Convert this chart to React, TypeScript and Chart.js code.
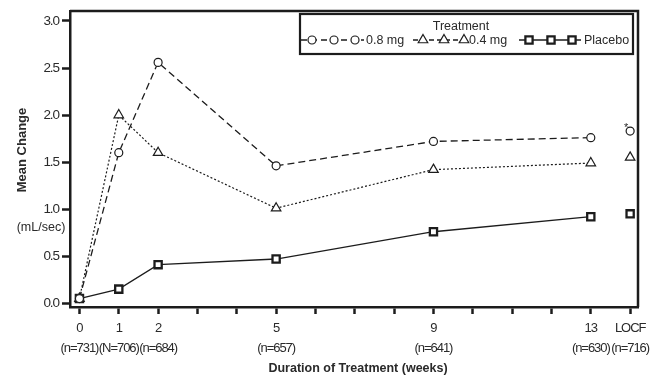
import React, { useEffect, useRef } from "react";
import { Chart, registerables } from "chart.js";

Chart.register(...registerables);

// ---- Data ----
const weeks = [0, 1, 2, 5, 9, 13];
const locfX = 14;
const mg08 = [0.05, 1.6, 2.56, 1.46, 1.72, 1.76];
const mg08Locf = 1.83;
const mg04 = [0.05, 2.0, 1.6, 1.01, 1.42, 1.49];
const mg04Locf = 1.55;
const placebo = [0.05, 0.15, 0.41, 0.47, 0.76, 0.92];
const placeboLocf = 0.95;

const xTickWeeks = [0, 1, 2, 3, 4, 5, 6, 7, 8, 9, 10, 11, 12, 13, 14];
const xLabelWeeks = [0, 1, 2, 5, 9, 13, 14];
const xLabelTop = ["0", "1", "2", "5", "9", "13", "LOCF"];
const xLabelBottom = ["(n=731)", "(N=706)", "(n=684)", "(n=657)", "(n=641)", "(n=630)", "(n=716)"];
const yTickValues = [0, 0.5, 1, 1.5, 2, 2.5, 3];

const legendTitle = "Treatment";
const legendLabels = ["0.8 mg", "0.4 mg", "Placebo"];
const yTitle = "Mean Change";
const yUnit = "(mL/sec)";
const xTitle = "Duration of Treatment (weeks)";

const SANS = "'Liberation Sans', Arial, sans-serif";
const INK = "#1c1c1c";
const TEXT = "#2a2a2a";
const TIGHT = "-1.05px";

function drawMarker(ctx: CanvasRenderingContext2D, kind: string, x: number, y: number) {
  ctx.save();
  ctx.setLineDash([]);
  ctx.fillStyle = "#fff";
  ctx.strokeStyle = INK;
  ctx.beginPath();
  if (kind === "circle") {
    ctx.lineWidth = 1.2;
    ctx.arc(x, y, 4, 0, Math.PI * 2);
  } else if (kind === "triangle") {
    ctx.lineWidth = 1.2;
    const r = 5.5;
    ctx.moveTo(x, y - r);
    ctx.lineTo(x + r * 0.866, y + r * 0.5);
    ctx.lineTo(x - r * 0.866, y + r * 0.5);
    ctx.closePath();
  } else {
    ctx.lineWidth = 2.3;
    ctx.rect(x - 3.6, y - 3.6, 7.2, 7.2);
  }
  ctx.fill();
  ctx.stroke();
  ctx.restore();
}

const tightPlugin = {
  id: "tight",
  beforeUpdate(chart: any) {
    (chart.ctx as any).letterSpacing = TIGHT;
  },
  beforeDraw(chart: any) {
    (chart.ctx as any).letterSpacing = TIGHT;
  },
};

const decorPlugin = {
  id: "decor",
  afterDraw(chart: any) {
    const ctx: CanvasRenderingContext2D = chart.ctx;
    const a = chart.chartArea;
    ctx.save();
    (ctx as any).letterSpacing = "0px";
    // frame top & right
    ctx.strokeStyle = INK;
    ctx.lineWidth = 2.5;
    ctx.setLineDash([]);
    ctx.beginPath();
    ctx.moveTo(a.left, a.top);
    ctx.lineTo(a.right, a.top);
    ctx.lineTo(a.right, a.bottom);
    ctx.stroke();

    // legend box
    ctx.lineWidth = 2.2;
    ctx.strokeRect(300, 14, 333, 40);
    ctx.fillStyle = TEXT;
    ctx.font = `12.5px ${SANS}`;
    ctx.textAlign = "center";
    ctx.textBaseline = "middle";
    ctx.fillText(legendTitle, 461, 27);

    const rowY = 40;
    // item 1
    ctx.lineWidth = 1.3;
    ctx.setLineDash([6, 4]);
    ctx.beginPath();
    ctx.moveTo(301, rowY);
    ctx.lineTo(364, rowY);
    ctx.stroke();
    [312, 334, 355].forEach((x) => drawMarker(ctx, "circle", x, rowY));
    // item 2
    ctx.setLineDash([5, 3]);
    ctx.beginPath();
    ctx.moveTo(413, rowY);
    ctx.lineTo(466, rowY);
    ctx.stroke();
    [423, 444, 464].forEach((x) => drawMarker(ctx, "triangle", x, rowY));
    // item 3
    ctx.setLineDash([]);
    ctx.beginPath();
    ctx.moveTo(519, rowY);
    ctx.lineTo(581, rowY);
    ctx.stroke();
    [529, 551, 572].forEach((x) => drawMarker(ctx, "square", x, rowY));

    ctx.fillStyle = TEXT;
    ctx.font = `12.5px ${SANS}`;
    ctx.textAlign = "left";
    ctx.fillText(legendLabels[0], 366, rowY + 1);
    ctx.fillText(legendLabels[1], 469, rowY + 1);
    ctx.fillText(legendLabels[2], 584, rowY + 1);

    // asterisk near LOCF 0.8 mg
    const xs = chart.scales.x;
    const ys = chart.scales.y;
    ctx.font = `11px ${SANS}`;
    ctx.textAlign = "center";
    ctx.fillText("*", xs.getPixelForValue(locfX) - 4, ys.getPixelForValue(mg08Locf) - 3);

    // axis titles
    ctx.fillStyle = TEXT;
    ctx.font = `bold 13px ${SANS}`;
    ctx.textAlign = "center";
    ctx.textBaseline = "middle";
    ctx.save();
    ctx.translate(22, 150);
    ctx.rotate(-Math.PI / 2);
    ctx.fillText(yTitle, 0, 0);
    ctx.restore();
    ctx.font = `bold 12.5px ${SANS}`;
    ctx.fillText(xTitle, 358, 369);
    ctx.font = `12.5px ${SANS}`;
    ctx.fillText(yUnit, 41, 228);
    ctx.restore();
  },
};

export default function App() {
  const ref = useRef<HTMLCanvasElement | null>(null);
  useEffect(() => {
    if (!ref.current) return;
    const common = {
      borderColor: INK,
      pointBackgroundColor: "#fff",
      pointBorderColor: INK,
      tension: 0,
    };
    const chart = new Chart(ref.current, {
      type: "line",
      data: {
        datasets: [
          {
            ...common,
            data: weeks.map((w, i) => ({ x: w, y: mg08[i] })),
            borderWidth: 1.3,
            borderDash: [7, 4],
            pointStyle: "circle",
            pointRadius: 4,
            pointBorderWidth: 1.2,
          },
          {
            ...common,
            data: weeks.map((w, i) => ({ x: w, y: mg04[i] })),
            borderWidth: 1.2,
            borderDash: [2, 2],
            pointStyle: "triangle",
            pointRadius: 5.5,
            pointBorderWidth: 1.2,
          },
          {
            ...common,
            data: weeks.map((w, i) => ({ x: w, y: placebo[i] })),
            borderWidth: 1.3,
            pointStyle: "rect",
            pointRadius: 5.1,
            pointBorderWidth: 2.3,
          },
          {
            ...common,
            data: [{ x: locfX, y: mg08Locf }],
            showLine: false,
            pointStyle: "circle",
            pointRadius: 4,
            pointBorderWidth: 1.2,
          },
          {
            ...common,
            data: [{ x: locfX, y: mg04Locf }],
            showLine: false,
            pointStyle: "triangle",
            pointRadius: 5.5,
            pointBorderWidth: 1.2,
          },
          {
            ...common,
            data: [{ x: locfX, y: placeboLocf }],
            showLine: false,
            pointStyle: "rect",
            pointRadius: 5.1,
            pointBorderWidth: 2.3,
          },
        ],
      },
      options: {
        responsive: false,
        animation: false,
        events: [],
        layout: { padding: { left: 0, top: 8, right: 33, bottom: 0 } },
        plugins: { legend: { display: false }, tooltip: { enabled: false }, title: { display: false } },
        scales: {
          x: {
            type: "linear",
            min: -0.24,
            max: 14.2,
            afterBuildTicks: (s: any) => {
              s.ticks = xTickWeeks.map((v) => ({ value: v }));
            },
            afterFit: (s: any) => {
              s.height = 72;
            },
            grid: { drawOnChartArea: false, drawTicks: true, tickLength: 7, tickWidth: 2.5, tickColor: INK },
            border: { display: true, color: INK, width: 2.5 },
            ticks: {
              autoSkip: false,
              maxRotation: 0,
              padding: 4,
              color: TEXT,
              font: { family: SANS, size: 13, lineHeight: 1.54 },
              callback: (v: any) => {
                const i = xLabelWeeks.indexOf(Number(v));
                return i >= 0 ? [xLabelTop[i], xLabelBottom[i]] : "";
              },
            },
          },
          y: {
            type: "linear",
            min: -0.04,
            max: 3.105,
            afterBuildTicks: (s: any) => {
              s.ticks = yTickValues.map((v) => ({ value: v }));
            },
            afterFit: (s: any) => {
              s.width = 70;
            },
            grid: { drawOnChartArea: false, drawTicks: true, tickLength: 8, tickWidth: 2.5, tickColor: INK },
            border: { display: true, color: INK, width: 2.5 },
            ticks: {
              padding: 3,
              color: TEXT,
              font: { family: SANS, size: 13.5 },
              callback: (v: any) => Number(v).toFixed(1),
            },
          },
        },
      },
      plugins: [tightPlugin, decorPlugin],
    } as any);
    return () => chart.destroy();
  }, []);
  return (
    <div style={{ position: "fixed", left: 0, top: 0, width: 671, height: 379, background: "#fff" }}>
      <canvas ref={ref} width={671} height={379} style={{ display: "block", width: 671, height: 379 }} />
    </div>
  );
}
